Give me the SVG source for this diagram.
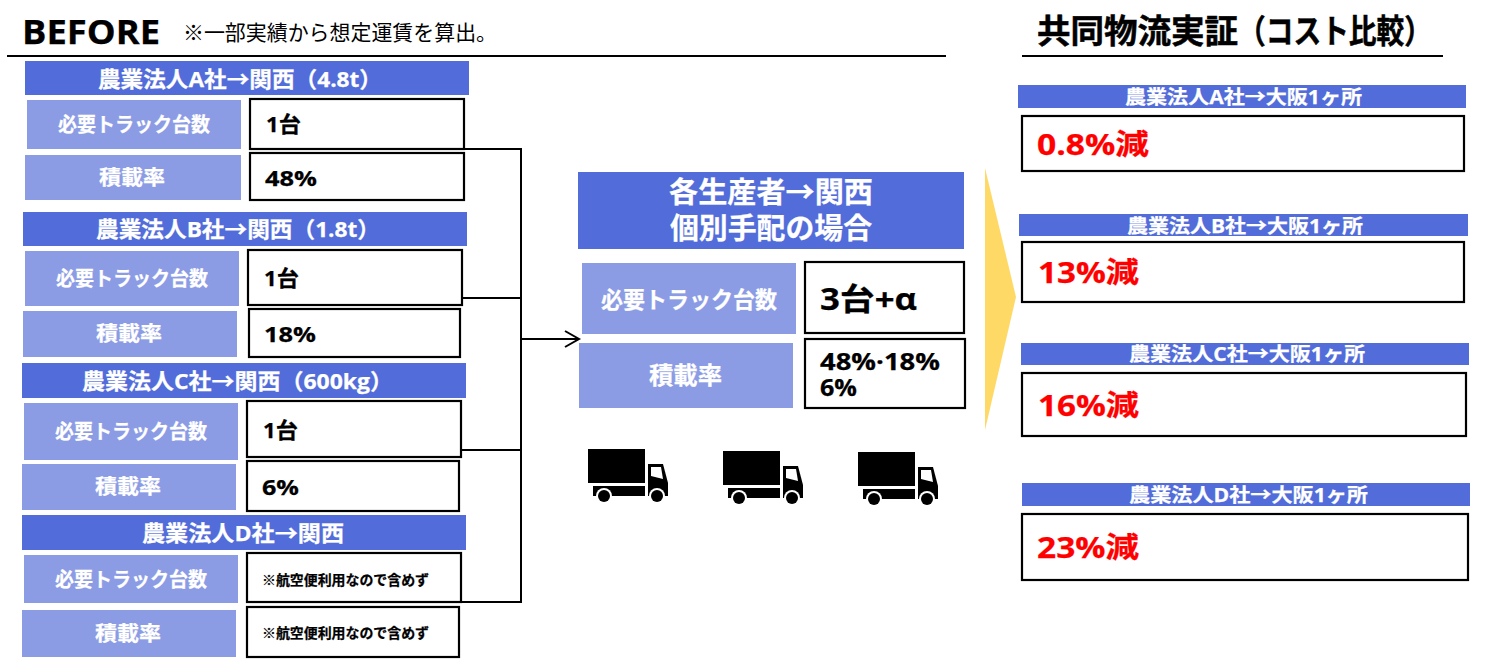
<svg xmlns="http://www.w3.org/2000/svg" width="1485" height="666" viewBox="0 0 1485 666">
<style>
text{font-family:"Open Sans","Noto Sans CJK JP",sans-serif;font-weight:700;fill:#000;stroke:#000;stroke-width:.25px}
.h{fill:#526CD9}.c{fill:#8C9CE4}.v{fill:#fff;stroke:#000;stroke-width:2.2}
text.w{fill:#fff;stroke:#fff}text.r{fill:#f00;stroke:#f00;font-size:29px}
.hs{font-size:22px}.cs{font-size:20px}.vs{font-size:22px}.n{font-size:13.5px}.rh{font-size:19px}
.ln{fill:none;stroke:#000;stroke-width:2}
</style>
<defs>
<marker id="ah" markerUnits="userSpaceOnUse" markerWidth="18" markerHeight="20" refX="15" refY="10" orient="auto"><path d="M1 2L15 10L1 18" fill="none" stroke="#000" stroke-width="2"/></marker>
<g id="truck">
<rect x="0" y="0" width="57" height="34"/>
<rect x="5" y="37" width="52" height="10"/>
<path d="M60 15H75L80 34V47H60Z"/>
<path d="M63 18H73L75 30L63 27Z" fill="#fff"/>
<circle cx="16" cy="47" r="8" fill="#fff"/><circle cx="69" cy="47" r="8" fill="#fff"/>
<circle cx="16" cy="47" r="6"/><circle cx="69" cy="47" r="6"/>
</g>
</defs>
<rect width="1485" height="666" fill="#fff"/>
<g id="title-before">
<text x="22" y="44" font-size="34" textLength="138" lengthAdjust="spacingAndGlyphs">BEFORE</text>
<text x="183" y="40" font-size="21" style="font-weight:400;stroke-width:0" textLength="314" lengthAdjust="spacingAndGlyphs">※一部実績から想定運賃を算出。</text>
<path class="ln" d="M7 56H946"/>
</g>
<g id="title-right">
<text y="43" font-size="33" style="stroke-width:.5px"><tspan x="1037" textLength="201" lengthAdjust="spacingAndGlyphs">共同物流実証</tspan><tspan x="1238" textLength="194" lengthAdjust="spacingAndGlyphs">（コスト比較）</tspan></text>
<path class="ln" d="M1022 56H1443"/>
</g>
<g id="connectors">
<path class="ln" d="M464 149H521V602H462M463 298H521M462 450H521"/>
<path class="ln" d="M521 339H579" marker-end="url(#ah)"/>
</g>
<g id="company-a">
<rect class="h" x="25" y="61" width="444" height="34"/>
<text class="w hs" x="98" y="87" textLength="284" lengthAdjust="spacingAndGlyphs">農業法人A社→関西（4.8t）</text>
<rect class="c" x="27" y="100" width="214" height="49"/>
<text class="w cs" x="58" y="132" textLength="152" lengthAdjust="spacingAndGlyphs">必要トラック台数</text>
<rect class="v" x="250" y="99" width="214" height="50"/>
<text class="vs" x="266" y="132" textLength="35" lengthAdjust="spacingAndGlyphs">1台</text>
<rect class="c" x="25" y="155" width="216" height="45"/>
<text class="w cs" x="99" y="185" textLength="66" lengthAdjust="spacingAndGlyphs">積載率</text>
<rect class="v" x="250" y="153" width="214" height="47"/>
<text class="vs" x="265" y="186" textLength="52" lengthAdjust="spacingAndGlyphs">48%</text>
</g>
<g id="company-b">
<rect class="h" x="23" y="212" width="444" height="34"/>
<text class="w hs" x="96" y="237" textLength="284" lengthAdjust="spacingAndGlyphs">農業法人B社→関西（1.8t）</text>
<rect class="c" x="25" y="251" width="214" height="55"/>
<text class="w cs" x="56" y="286" textLength="152" lengthAdjust="spacingAndGlyphs">必要トラック台数</text>
<rect class="v" x="248" y="250" width="214" height="55"/>
<text class="vs" x="264" y="286" textLength="35" lengthAdjust="spacingAndGlyphs">1台</text>
<rect class="c" x="23" y="311" width="214" height="46"/>
<text class="w cs" x="96" y="341" textLength="66" lengthAdjust="spacingAndGlyphs">積載率</text>
<rect class="v" x="249" y="309" width="211" height="48"/>
<text class="vs" x="264" y="342" textLength="52" lengthAdjust="spacingAndGlyphs">18%</text>
</g>
<g id="company-c">
<rect class="h" x="22" y="363" width="444" height="35"/>
<text class="w hs" x="82" y="389" textLength="311" lengthAdjust="spacingAndGlyphs">農業法人C社→関西（600kg）</text>
<rect class="c" x="24" y="403" width="214" height="57"/>
<text class="w cs" x="55" y="439" textLength="152" lengthAdjust="spacingAndGlyphs">必要トラック台数</text>
<rect class="v" x="247" y="401" width="214" height="56"/>
<text class="vs" x="263" y="438" textLength="35" lengthAdjust="spacingAndGlyphs">1台</text>
<rect class="c" x="22" y="464" width="214" height="46"/>
<text class="w cs" x="95" y="494" textLength="66" lengthAdjust="spacingAndGlyphs">積載率</text>
<rect class="v" x="247" y="461" width="212" height="50"/>
<text class="vs" x="262" y="495" textLength="37" lengthAdjust="spacingAndGlyphs">6%</text>
</g>
<g id="company-d">
<rect class="h" x="22" y="515" width="444" height="35"/>
<text class="w hs" x="142" y="541" textLength="202" lengthAdjust="spacingAndGlyphs">農業法人D社→関西</text>
<rect class="c" x="24" y="555" width="214" height="48"/>
<text class="w cs" x="55" y="587" textLength="152" lengthAdjust="spacingAndGlyphs">必要トラック台数</text>
<rect class="v" x="247" y="553" width="214" height="49"/>
<text class="n" x="262" y="585" textLength="167" lengthAdjust="spacingAndGlyphs">※航空便利用なので含めず</text>
<rect class="c" x="22" y="610" width="214" height="47"/>
<text class="w cs" x="95" y="641" textLength="66" lengthAdjust="spacingAndGlyphs">積載率</text>
<rect class="v" x="247" y="607" width="212" height="50"/>
<text class="n" x="262" y="638" textLength="167" lengthAdjust="spacingAndGlyphs">※航空便利用なので含めず</text>
</g>
<g id="summary">
<rect class="h" x="578" y="172" width="386" height="77"/>
<text class="w" x="669" y="203" font-size="29" textLength="204" lengthAdjust="spacingAndGlyphs">各生産者→関西</text>
<text class="w" x="670" y="239" font-size="29" textLength="202" lengthAdjust="spacingAndGlyphs">個別手配の場合</text>
<rect class="c" x="582" y="263" width="214" height="71"/>
<text class="w" x="601" y="308" font-size="23" textLength="176" lengthAdjust="spacingAndGlyphs">必要トラック台数</text>
<rect class="v" x="805" y="262" width="159" height="71"/>
<text x="820" y="310" font-size="31" textLength="97" lengthAdjust="spacingAndGlyphs">3台+α</text>
<rect class="c" x="579" y="343" width="214" height="65"/>
<text class="w" x="649" y="384" font-size="24" textLength="73" lengthAdjust="spacingAndGlyphs">積載率</text>
<rect class="v" x="805" y="339" width="160" height="69"/>
<text x="820" y="370" font-size="24" textLength="120" lengthAdjust="spacingAndGlyphs">48%·18%</text>
<text x="820" y="396" font-size="24" textLength="37" lengthAdjust="spacingAndGlyphs">6%</text>
</g>
<g id="truck-1"><use href="#truck" x="588" y="449"/></g>
<g id="truck-2"><use href="#truck" x="723" y="451"/></g>
<g id="truck-3"><use href="#truck" x="858" y="452"/></g>
<g id="big-arrow"><polygon points="985,168 1016,297 985,430" fill="#FFD966"/></g>
<g id="result-a">
<rect class="h" x="1018" y="85" width="448" height="23"/>
<text class="w rh" x="1125" y="104" textLength="237" lengthAdjust="spacingAndGlyphs">農業法人A社→大阪1ヶ所</text>
<rect class="v" x="1022" y="116" width="442" height="55"/>
<text class="r" x="1037" y="155" textLength="112" lengthAdjust="spacingAndGlyphs">0.8%減</text>
</g>
<g id="result-b">
<rect class="h" x="1019" y="214" width="449" height="22"/>
<text class="w rh" x="1127" y="233" textLength="236" lengthAdjust="spacingAndGlyphs">農業法人B社→大阪1ヶ所</text>
<rect class="v" x="1022" y="242" width="442" height="60"/>
<text class="r" x="1038" y="283" textLength="101" lengthAdjust="spacingAndGlyphs">13%減</text>
</g>
<g id="result-c">
<rect class="h" x="1021" y="343" width="448" height="22"/>
<text class="w rh" x="1129" y="361" textLength="236" lengthAdjust="spacingAndGlyphs">農業法人C社→大阪1ヶ所</text>
<rect class="v" x="1022" y="373" width="444" height="63"/>
<text class="r" x="1038" y="416" textLength="101" lengthAdjust="spacingAndGlyphs">16%減</text>
</g>
<g id="result-d">
<rect class="h" x="1022" y="483" width="448" height="23"/>
<text class="w rh" x="1129" y="502" textLength="239" lengthAdjust="spacingAndGlyphs">農業法人D社→大阪1ヶ所</text>
<rect class="v" x="1022" y="514" width="446" height="66"/>
<text class="r" x="1037" y="558" textLength="102" lengthAdjust="spacingAndGlyphs">23%減</text>
</g>
</svg>
